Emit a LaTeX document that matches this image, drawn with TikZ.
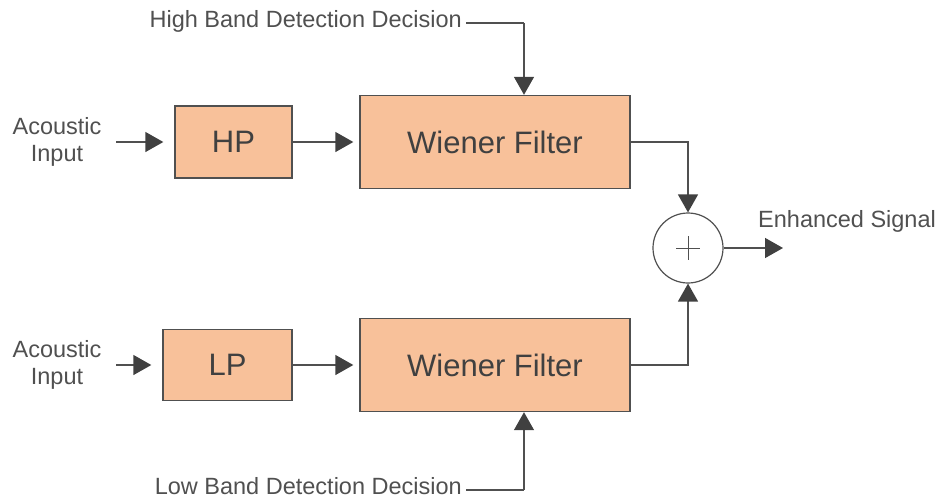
\documentclass[tikz,border=0pt]{standalone}
\usepackage{fontspec}
\setmainfont{Liberation Sans}
\usetikzlibrary{arrows.meta}
\definecolor{boxfill}{HTML}{F8C19A}
\definecolor{ink}{HTML}{505050}
\definecolor{tipc}{HTML}{404040}
\tikzset{
  block/.style={draw=ink, line width=1.4pt, fill=boxfill, text=tipc, font=\fontsize{31}{33}\selectfont},
  lbl/.style={text=ink, font=\fontsize{23.5}{27}\selectfont, align=center, inner sep=0pt},
  sig/.style={draw=ink, line width=1.4pt, -{Triangle[length=18pt,width=20pt,fill=tipc,color=tipc]}},
  wire/.style={draw=ink, line width=1.4pt}
}
\begin{document}
\begin{tikzpicture}[x=1pt, y=-1pt]
        \useasboundingbox (0,0) rectangle (945,501);
        % Nodes
        \node(in1) [lbl] at (57,142) {Acoustic\\Input};
        \node(in2) [lbl] at (57,365) {Acoustic\\Input};
        \node(hp) [block, minimum width=117pt, minimum height=72pt] at (233.5,142) {HP};
        \node(lp) [block, minimum width=129pt, minimum height=71pt] at (227.5,365) {LP};
        \node(wf1) [block, minimum width=270pt, minimum height=93pt] at (495,142) {Wiener Filter};
        \node(wf2) [block, minimum width=270pt, minimum height=93pt] at (495,365) {Wiener Filter};
        \node(sum) [circle, draw=ink, line width=1.2pt, fill=white, minimum size=70pt] at (688,248) {};
        \node(hbd) [lbl, anchor=east] at (462,21) {High Band Detection Decision};
        \node(lbd) [lbl, anchor=east] at (462,486) {Low Band Detection Decision};
        \node(out) [lbl, anchor=west] at (758,221) {Enhanced Signal};
        \coordinate(s1) at (116,142);
        \coordinate(s2) at (116,365);
        \coordinate(hbc) at (524,23);
        \coordinate(lbc) at (524,490);
        \coordinate(o) at (783,248);

        % Plus sign
        \draw[ink, line width=0.8pt] (sum.center) ++(-12,0) -- ++(24,0);
        \draw[ink, line width=0.8pt] (sum.center) ++(0,-12) -- ++(0,24);

        % Edges
        \draw[sig, shorten >=11pt] (s1) -- (hp);
        \draw[sig, shorten >=11pt] (s2) -- (lp);
        \draw[sig, shorten >=6pt] (hp) -- (wf1);
        \draw[sig, shorten >=6pt] (lp) -- (wf2);
        \draw[wire] (hbd.east |- hbc) ++(4,0) -- (hbc);
        \draw[sig] (hbc) -- (hbc |- wf1.north);
        \draw[wire] (lbd.east |- lbc) ++(4,0) -- (lbc);
        \draw[sig] (lbc) -- (lbc |- wf2.south);
        \draw[sig] (wf1.east) -| (sum.north);
        \draw[sig] (wf2.east) -| (sum.south);
        \draw[sig] (sum.east) -- (o);

    \end{tikzpicture}
\end{document}
